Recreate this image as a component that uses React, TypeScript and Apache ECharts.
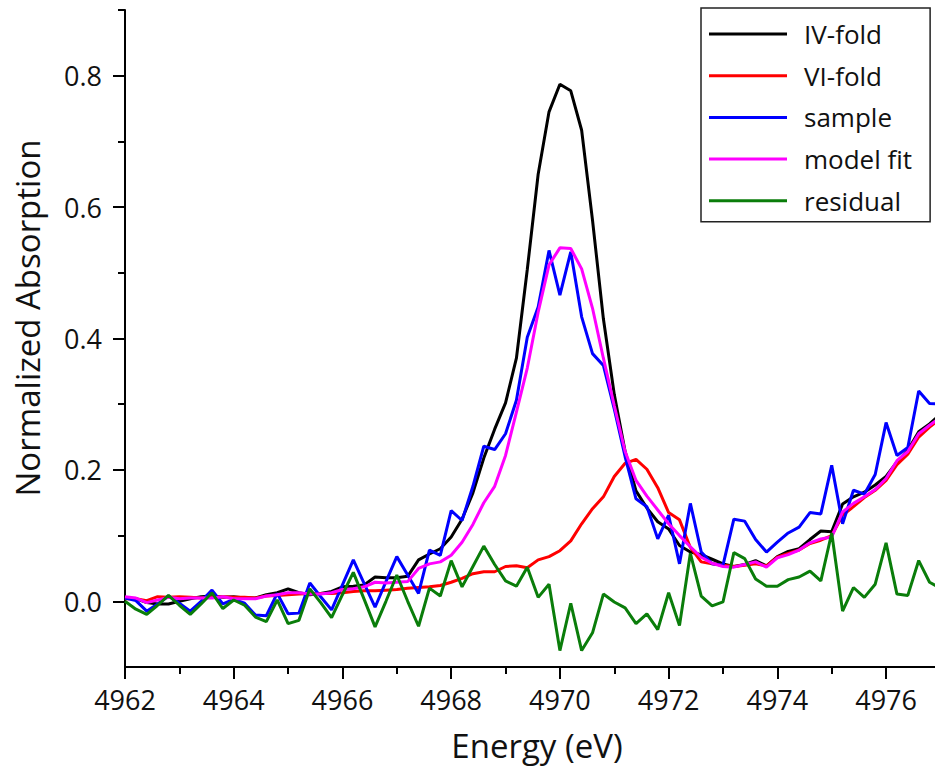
import React, { useEffect, useRef } from "react";
import * as echarts from "echarts";

const energy = [
  4962.0, 4962.2, 4962.4, 4962.6, 4962.8, 4963.0, 4963.2, 4963.4, 4963.6, 4963.8,
  4964.0, 4964.2, 4964.4, 4964.6, 4964.8, 4965.0, 4965.2, 4965.4, 4965.6, 4965.8,
  4966.0, 4966.2, 4966.4, 4966.6, 4966.8, 4967.0, 4967.2, 4967.4, 4967.6, 4967.8,
  4968.0, 4968.2, 4968.4, 4968.6, 4968.8, 4969.0, 4969.2, 4969.4, 4969.6, 4969.8,
  4970.0, 4970.2, 4970.4, 4970.6, 4970.8, 4971.0, 4971.2, 4971.4, 4971.6, 4971.8,
  4972.0, 4972.2, 4972.4, 4972.6, 4972.8, 4973.0, 4973.2, 4973.4, 4973.6, 4973.8,
  4974.0, 4974.2, 4974.4, 4974.6, 4974.8, 4975.0, 4975.2, 4975.4, 4975.6, 4975.8,
  4976.0, 4976.2, 4976.4, 4976.6, 4976.8, 4977.0,
];

const ivFold = [
  0.005, 0.004, -0.002, -0.004, -0.004, 0.0, 0.004, 0.007, 0.008, 0.006,
  0.007, 0.005, 0.005, 0.01, 0.013, 0.019, 0.013, 0.01, 0.012, 0.015,
  0.022, 0.023, 0.025, 0.037, 0.036, 0.036, 0.038, 0.063, 0.072, 0.08,
  0.098, 0.125, 0.165, 0.218, 0.262, 0.302, 0.37, 0.505, 0.65, 0.745,
  0.787, 0.777, 0.717, 0.58, 0.43, 0.315, 0.228, 0.168, 0.142, 0.121,
  0.11, 0.085, 0.075, 0.071, 0.064, 0.057, 0.053, 0.056, 0.062, 0.054,
  0.068, 0.076, 0.08, 0.094, 0.107, 0.106, 0.148, 0.159, 0.166, 0.177,
  0.19, 0.212, 0.23, 0.258, 0.27, 0.285,
];

const viFold = [
  0.004, 0.004, 0.001, 0.007, 0.006, 0.007, 0.006, 0.005, 0.007, 0.007,
  0.006, 0.006, 0.005, 0.008, 0.009, 0.01, 0.011, 0.012, 0.012, 0.012,
  0.013, 0.015, 0.016, 0.016, 0.017, 0.018, 0.02, 0.021, 0.022, 0.024,
  0.029, 0.035, 0.042, 0.045, 0.045, 0.053, 0.054, 0.051, 0.063, 0.068,
  0.077, 0.092, 0.118, 0.141, 0.159, 0.19, 0.21, 0.216, 0.201, 0.173,
  0.135, 0.124, 0.082, 0.06, 0.057, 0.055, 0.053, 0.055, 0.057, 0.054,
  0.067, 0.073, 0.078, 0.088, 0.093, 0.1, 0.131, 0.144, 0.158, 0.169,
  0.184, 0.208, 0.224, 0.25, 0.265, 0.278,
];

const sample = [
  0.005, 0.001, -0.015, -0.004, 0.008, -0.003, -0.015, 0.0, 0.017, -0.004,
  0.003, -0.003, -0.021, -0.022, 0.012, -0.019, -0.018, 0.028, 0.007, -0.013,
  0.025, 0.063, 0.027, -0.009, 0.03, 0.068, 0.04, 0.012, 0.078, 0.07,
  0.138, 0.123, 0.175, 0.236, 0.231, 0.255, 0.306, 0.402, 0.448, 0.534,
  0.466, 0.532, 0.433, 0.377, 0.359, 0.293, 0.22, 0.156, 0.144, 0.095,
  0.131, 0.057, 0.149, 0.075, 0.057, 0.055, 0.125, 0.122, 0.094, 0.075,
  0.09, 0.104, 0.113, 0.135, 0.133, 0.207, 0.118, 0.169, 0.163, 0.193,
  0.272, 0.222, 0.234, 0.32, 0.301, 0.3,
];

const modelFit = [
  0.007, 0.005, -0.002, 0.002, 0.006, 0.004, 0.005, 0.005, 0.005, 0.007,
  0.004, 0.004, 0.004, 0.008, 0.01, 0.013, 0.013, 0.011, 0.011, 0.013,
  0.018, 0.019, 0.022, 0.029, 0.028, 0.029, 0.03, 0.05, 0.057, 0.06,
  0.07, 0.09, 0.117, 0.15, 0.175, 0.222, 0.288, 0.355, 0.44, 0.512,
  0.538, 0.537, 0.506, 0.446, 0.37, 0.298, 0.228, 0.184, 0.16, 0.139,
  0.118, 0.1, 0.083, 0.067, 0.058, 0.053, 0.052, 0.056, 0.06, 0.052,
  0.066, 0.071, 0.078, 0.089, 0.095, 0.098, 0.136, 0.149, 0.159, 0.17,
  0.187, 0.214, 0.228, 0.255, 0.268, 0.28,
];

const residual = [
  0.0, -0.012, -0.02, -0.006, 0.009, -0.006, -0.02, -0.004, 0.013, -0.011,
  0.002, -0.006, -0.024, -0.031, 0.002, -0.034, -0.029, 0.019, -0.002, -0.025,
  0.01, 0.044, 0.003, -0.039, 0.0, 0.04, 0.0, -0.038, 0.02, 0.008,
  0.062, 0.022, 0.053, 0.084, 0.056, 0.031, 0.023, 0.052, 0.006, 0.026,
  -0.075, -0.003, -0.075, -0.048, 0.011, -0.001, -0.01, -0.034, -0.019, -0.043,
  0.013, -0.037, 0.073, 0.008, -0.007, -0.001, 0.074, 0.065, 0.034, 0.023,
  0.023, 0.033, 0.037, 0.046, 0.031, 0.104, -0.015, 0.021, 0.006, 0.026,
  0.089, 0.011, 0.009, 0.062, 0.029, 0.02,
];

const seriesNames = ["IV-fold", "VI-fold", "sample", "model fit", "residual"];
const seriesColors = ["#000000", "#ff0000", "#0000ff", "#ff00ff", "#0a7d0a"];
const seriesValues = [ivFold, viFold, sample, modelFit, residual];

const xMajorTicks = [4962, 4964, 4966, 4968, 4970, 4972, 4974, 4976];
const xMinorTicks = [4963, 4965, 4967, 4969, 4971, 4973, 4975];
const yMajorTicks = [0, 0.2, 0.4, 0.6, 0.8];
const yMinorTicks = [0.1, 0.3, 0.5, 0.7, 0.9];

const FONT = "'Open Sans', 'Noto Sans', sans-serif";

export default function App() {
  const ref = useRef<HTMLDivElement>(null);

  useEffect(() => {
    document.body.style.margin = "0";
    if (!ref.current) return;
    const chart = echarts.init(ref.current, null, { renderer: "svg" });

    const axisLine = { show: true, onZero: false, lineStyle: { color: "#000", width: 2 } };

    chart.setOption({
      animation: false,
      backgroundColor: "#ffffff",
      grid: { left: 125, top: 10, right: 0, bottom: 107 },
      legend: {
        orient: "vertical",
        left: 701,
        top: 8,
        data: seriesNames,
        icon: "rect",
        itemWidth: 78,
        itemHeight: 3,
        itemGap: 11.7,
        borderColor: "#222",
        borderWidth: 1.5,
        padding: [11, 18, 6, 8],
        selectedMode: false,
        textStyle: {
          fontFamily: FONT,
          fontSize: 26,
          color: "#111",
          lineHeight: 30,
          padding: [0, 0, 0, 12],
        },
      },
      xAxis: [
        {
          type: "value",
          min: 4962,
          max: 4976.9,
          position: "bottom",
          axisLine,
          splitLine: { show: false },
          axisTick: {
            show: true,
            length: 12,
            customValues: xMajorTicks,
            lineStyle: { color: "#000", width: 2 },
          },
          axisLabel: {
            customValues: xMajorTicks,
            margin: 19,
            fontFamily: FONT,
            fontSize: 27,
            color: "#111",
            formatter: (v: number) => String(Math.round(v)),
          },
        },
        {
          type: "value",
          min: 4962,
          max: 4976.9,
          position: "bottom",
          axisLine: { show: false, onZero: false },
          splitLine: { show: false },
          axisLabel: { show: false },
          axisTick: {
            show: true,
            length: 7,
            customValues: xMinorTicks,
            lineStyle: { color: "#000", width: 2 },
          },
        },
      ],
      yAxis: [
        {
          type: "value",
          min: -0.1,
          max: 0.9,
          position: "left",
          axisLine,
          splitLine: { show: false },
          axisTick: {
            show: true,
            length: 12,
            customValues: yMajorTicks,
            lineStyle: { color: "#000", width: 2 },
          },
          axisLabel: {
            customValues: yMajorTicks,
            margin: 23,
            fontFamily: FONT,
            fontSize: 27,
            color: "#111",
            formatter: (v: number) => v.toFixed(1),
          },
        },
        {
          type: "value",
          min: -0.1,
          max: 0.9,
          position: "left",
          axisLine: { show: false, onZero: false },
          splitLine: { show: false },
          axisLabel: { show: false },
          axisTick: {
            show: true,
            length: 7,
            customValues: yMinorTicks,
            lineStyle: { color: "#000", width: 2 },
          },
        },
      ],
      graphic: [
        {
          type: "text",
          x: 537,
          y: 745,
          style: {
            text: "Energy (eV)",
            fontFamily: FONT,
            fontSize: 33,
            fill: "#111",
            align: "center",
            verticalAlign: "middle",
          },
        },
        {
          type: "text",
          x: 27,
          y: 318,
          rotation: Math.PI / 2,
          style: {
            text: "Normalized Absorption",
            fontFamily: FONT,
            fontSize: 33,
            fill: "#111",
            align: "center",
            verticalAlign: "middle",
          },
        },
      ],
      series: seriesNames.map((name, si) => ({
        name,
        type: "line",
        xAxisIndex: 0,
        yAxisIndex: 0,
        showSymbol: false,
        symbol: "none",
        clip: true,
        color: seriesColors[si],
        lineStyle: { color: seriesColors[si], width: 3 },
        data: energy.map((e, i) => [e, seriesValues[si][i]]),
      })),
    });

    return () => {
      chart.dispose();
    };
  }, []);

  return <div ref={ref} style={{ width: 935, height: 774 }} />;
}
